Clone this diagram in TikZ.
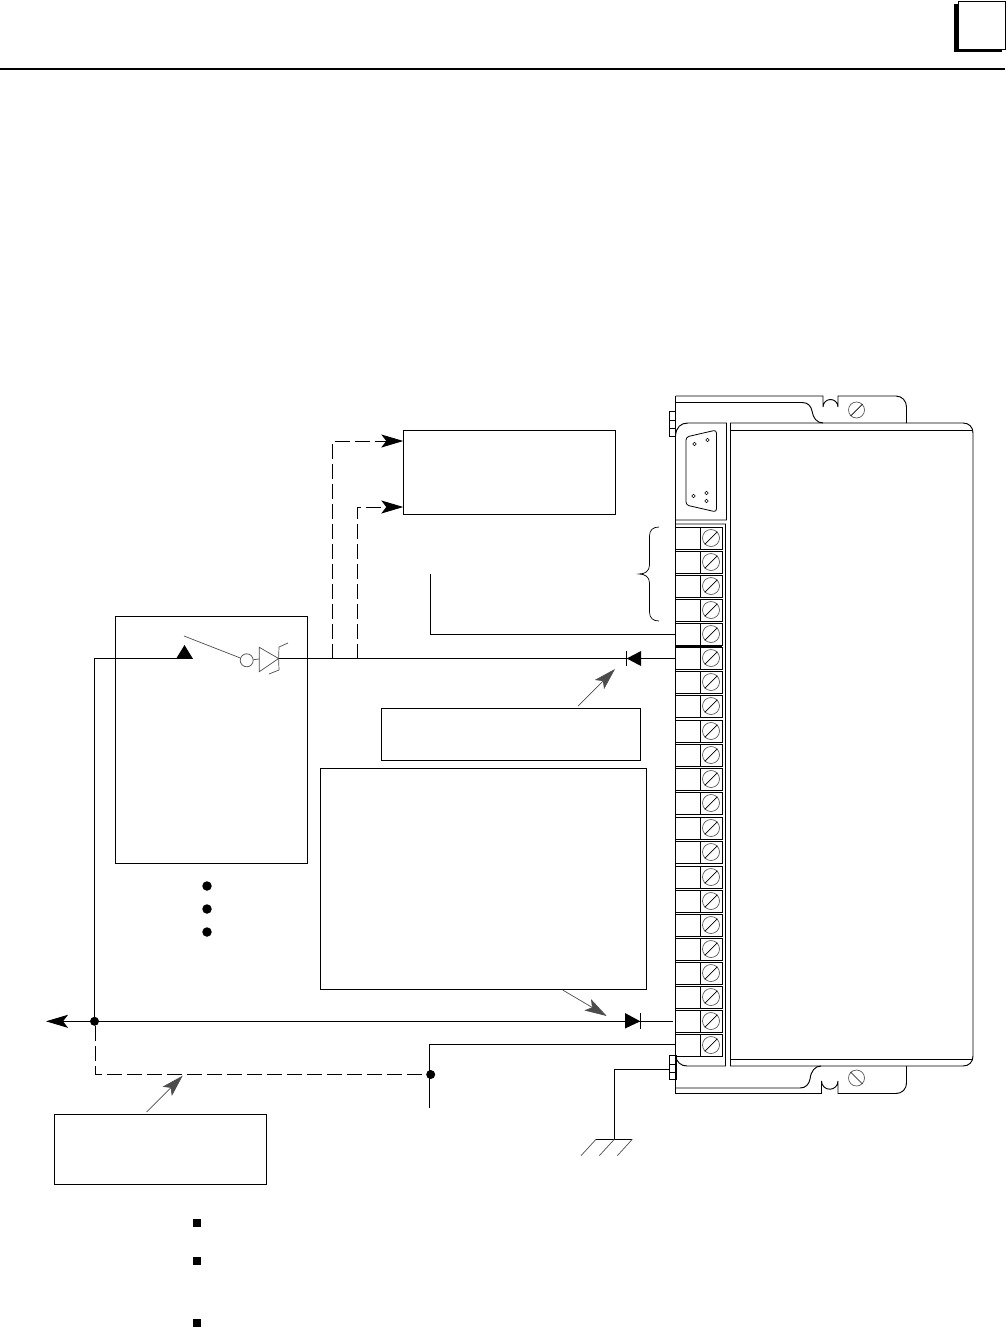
\documentclass[tikz,border=0pt]{standalone}
\usepackage{tikz}
\usetikzlibrary{arrows,arrows.meta,positioning}

\tikzstyle{box}=[draw,line width=1pt,inner sep=0pt,outer sep=0pt,anchor=north west]
\tikzstyle{wire}=[line width=0.95pt]
\tikzstyle{thin wire}=[line width=0.7pt,black!70]
\tikzstyle{dashwire}=[line width=0.95pt,dash pattern=on 15pt off 5pt]
\tikzstyle{dot}=[circle,fill=black,inner sep=0pt,minimum size=9pt]
\tikzstyle{marker}=[circle,fill=black,inner sep=0pt,minimum size=9.5pt]
\tikzstyle{screw}=[circle,draw=black!65,line width=0.7pt,inner sep=0pt,minimum size=17pt]
\tikzstyle{bighead}=[-{Stealth[length=22pt,width=13pt,inset=5pt]}]

\begin{document}
\begin{tikzpicture}[x=1pt,y=-1pt,line join=miter]
  \useasboundingbox (0,0) rectangle (1007,1328);

  % page header
  \draw[line width=2pt] (0,69) -- (1005,69);
  \fill (954,4) rectangle (1002,52);
  \node[box,fill=white,minimum width=47pt,minimum height=48pt] (tab) at (958.5,1.5) {};

  % boxes
  \node[box,minimum width=211.7pt,minimum height=84pt] (host) at (403.3,430.3) {};
  \node[box,minimum width=192.4pt,minimum height=246.7pt] (field) at (115.3,616.3) {};
  \node[box,minimum width=259pt,minimum height=51.5pt] (note) at (381,708.5) {};
  \node[box,minimum width=326.5pt,minimum height=221.5pt] (cable) at (320,768) {};
  \node[box,minimum width=212.4pt,minimum height=69.7pt] (ground) at (54.3,1114.3) {};

  % unit outline
  \draw[wire] (675.5,396) -- (675.5,1094);
  \draw[wire] (675.5,396) -- (823,396) -- (823,407) arc[start angle=180,end angle=360,radius=7.5] -- (838,396)
     -- (896,396) .. controls (902,396) and (906.5,401) .. (906.5,407) -- (906.5,423);
  \draw[wire] (675.5,402.5) -- (802,402.5) .. controls (808,402.5) and (811,406) .. (812,411)
     .. controls (813,418) and (817,423) .. (823,423);
  \draw[wire] (675.5,1093.5) -- (821.5,1093.5) -- (821.5,1081) arc[start angle=180,end angle=0,radius=8.25] -- (838,1093.5)
     -- (896,1093.5) .. controls (902,1093.5) and (906.5,1089) .. (906.5,1083) -- (906.5,1066);
  \draw[wire] (675.5,1088) -- (800,1088) .. controls (806,1088) and (809,1084) .. (810,1079)
     .. controls (811,1071) and (815,1066) .. (821,1066);

  % main block
  \draw[wire] (730.5,1066) -- (730.5,423) -- (963,423) .. controls (969,423) and (973,427) .. (973,433)
     -- (973,1056) .. controls (973,1062) and (969,1066) .. (963,1066) -- cycle;
  \draw[wire] (730.5,430) -- (973,430);
  \draw[wire] (730.5,1059) -- (973,1059);

  % connector panel
  \draw[wire] (675.5,436) .. controls (676,427) and (681,423) .. (688,423) -- (726.5,423) -- (726.5,520) -- (675.5,520);
  \draw[wire] (675.5,524) -- (725.5,524) -- (725.5,1066) -- (687,1066) .. controls (681,1066) and (676,1062) .. (675.5,1055);
  \draw[line width=0.8pt,rounded corners=3pt] (686,437) -- (716.5,430) -- (716.5,512) -- (686,505) -- cycle;
  \foreach \px/\py in {694.5/444,707.5/440,706.5/493,706.5/501,693.5/496}
    \draw[line width=0.6pt] (\px,\py) circle (1.8);

  % terminals
  \foreach \ty in {538,562,586,610,634,658,682,706,731,755,779,803,828,852,877,901,925,949,973,997,1021,1045} {
    \draw[line width=0.9pt] (675.5,\ty-11) -- (722,\ty-11) -- (722,\ty+11) -- (675.5,\ty+11);
    \draw[line width=0.9pt] (700,\ty-11) -- (700,\ty+11);
    \node[screw] (s\ty) at (711,\ty) {};
    \draw[line width=0.7pt] (s\ty.225) -- (s\ty.45);
  }
  \draw[line width=1.6pt] (675.5,647) -- (722,647);

  % mounting screws and tabs
  \node[screw,minimum size=16pt] (topscrew) at (856.5,410) {};
  \draw[line width=0.7pt] (topscrew.225) -- (topscrew.45);
  \node[screw,minimum size=16pt] (botscrew) at (856.5,1078) {};
  \draw[line width=0.7pt] (botscrew.135) -- (botscrew.315);
  \draw[line width=0.9pt] (669.5,411.5) rectangle (675.5,436.5) (669.5,420) -- (675.5,420) (669.5,428) -- (675.5,428);
  \draw[line width=0.9pt] (669.5,1055.5) rectangle (676.5,1079) (669.5,1064) -- (676.5,1064) (669.5,1072) -- (676.5,1072);

  % brace
  \draw[line width=0.7pt] (659,527) .. controls (653,527) and (649.5,530) .. (649.5,536) -- (649.5,565)
     .. controls (649.5,571) and (645,574) .. (639,574) .. controls (645,574) and (649.5,577) .. (649.5,583)
     -- (649.5,612) .. controls (649.5,618) and (653,621) .. (659,621);

  % switch and zener
  \coordinate (sw) at (94.5,658.5);
  \coordinate (trig) at (177,658.5);
  \coordinate (busleft) at (46,1021.3);
  \node[dot] (busdot) at (94.5,1021.3) {};
  \node[dot] (shielddot) at (430.7,1074.5) {};
  \coordinate (shield0) at (95.7,1026);
  \coordinate (shield1) at (95.7,1074.5);
  \coordinate (dA) at (332,658.5);
  \coordinate (dB) at (357.5,658.5);
  \coordinate (hostA) at (403.3,441);
  \coordinate (hostB) at (403.3,507);
  \node[circle,draw=black!65,line width=0.8pt,inner sep=0pt,minimum size=13pt] (contact) at (246.7,660.3) {};
  \coordinate (zenerL) at (259.3,659);
  \coordinate (zenerR) at (278.6,658.5);
  \draw[wire] (busdot) -- (sw) -- (trig);
  \fill (176,658.9) -- (193,658.9) -- (184.5,645) -- cycle;
  \draw[thin wire] (184,636) -- (contact.160);
  \draw[thin wire] (contact) -- (zenerL);
  \draw[thin wire] (zenerL) -- (259.3,671.7) -- (zenerR) -- (259.3,647.3) -- cycle;
  \draw[thin wire] (zenerR) -- (279,670) -- (269,674);
  \draw[thin wire] (zenerR) -- (279,647) -- (288,643);
  \draw[wire] (zenerR) -- (675,658.5);

  % dashed feeds to host
  \draw[dashwire,bighead] (dA) -- (332,441) -- (hostA);
  \draw[dashwire,bighead] (dB) -- (357.5,507) -- (hostB);

  % terminal wires
  \draw[wire] (430,574) -- (430,634) -- (675,634);
  \draw[wire] (busdot) -- (673,1021.3);
  \draw[wire,bighead] (busdot) -- (busleft);
  \draw[wire] (429.5,1108) -- (429.5,1044.5) -- (675,1044.5);
  \draw[dashwire] (shield0) -- (shield1) -- (shielddot);

  % diodes
  \fill (626.7,658.5) -- (641,651) -- (641,666) -- cycle;
  \draw[wire] (626.5,650.7) -- (626.5,665.7);
  \fill (640.3,1021.3) -- (625,1013) -- (625,1028.5) -- cycle;
  \draw[wire] (640.5,1013) -- (640.5,1028.5);

  % ground
  \draw[wire] (669,1069.3) -- (614.3,1069.3) -- (614.3,1139.3);
  \draw[wire] (596,1139.3) -- (632.3,1139.3);
  \foreach \gx in {596,614.3,632.3}
    \draw[thin wire] (\gx,1139.3) -- (\gx-15,1155.7);

  % callout arrows
  \coordinate (tipA) at (615,669);
  \coordinate (tipB) at (606.7,1016);
  \coordinate (tipC) at (182.7,1075.7);
  \draw[thin wire,bighead] (578,706) -- (tipA);
  \draw[thin wire,bighead] (562.7,990) -- (tipB);
  \draw[thin wire,bighead] (146.7,1112) -- (tipC);

  % dots
  \foreach \dy in {886,909,932}
    \node[marker] (m\dy) at (207,\dy) {};

  % bullets
  \foreach \by in {1223,1261,1323}
    \fill (193,\by-4) rectangle (201,\by+4);
\end{tikzpicture}
\end{document}
